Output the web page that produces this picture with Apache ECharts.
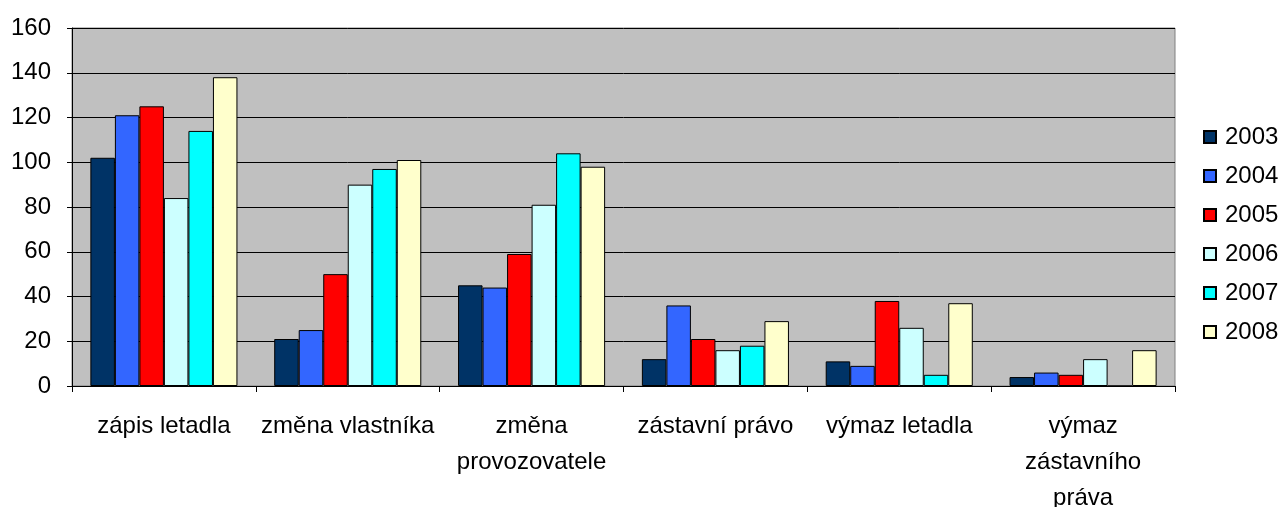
<!DOCTYPE html>
<html>
<head>
<meta charset="utf-8">
<script src="https://cdn.jsdelivr.net/npm/echarts@6/dist/echarts.min.js"></script>
<style>
  html, body { margin: 0; padding: 0; background: #fff; }
  #chart { width: 1285px; height: 507px; }
</style>
</head>
<body>
<div id="chart"></div>
<script>
const categories = ['zápis letadla', 'změna vlastníka', 'změna\nprovozovatele', 'zástavní právo', 'výmaz letadla', 'výmaz\nzástavního\npráva'];
const years = ['2003', '2004', '2005', '2006', '2007', '2008'];
const v2003 = [102, 21, 45, 12, 11, 4];
const v2004 = [121, 25, 44, 36, 9, 6];
const v2005 = [125, 50, 59, 21, 38, 5];
const v2006 = [84, 90, 81, 16, 26, 12];
const v2007 = [114, 97, 104, 18, 5, 0];
const v2008 = [138, 101, 98, 29, 37, 16];
const yTicks = [0, 20, 40, 60, 80, 100, 120, 140, 160];

const values = [v2003, v2004, v2005, v2006, v2007, v2008];
const colors = ['#003366', '#3366ff', '#ff0000', '#ccffff', '#00ffff', '#ffffcc'];
const font = 'Liberation Sans, Arial, sans-serif';

let myChart = echarts.init(document.getElementById('chart'));
myChart.setOption({
  animation: false,
  textStyle: { fontFamily: font },
  grid: {
    left: 72,
    right: 110,
    top: 28,
    bottom: 121,
    outerBoundsMode: 'none',
    containLabel: false,
    show: true,
    backgroundColor: '#c0c0c0',
    borderColor: '#808080',
    borderWidth: 1
  },
  legend: {
    orient: 'vertical',
    left: 1198,
    top: 120,
    itemWidth: 12,
    itemHeight: 12,
    itemGap: 15,
    icon: 'rect',
    textStyle: { fontSize: 24, color: '#000', fontFamily: font, padding: [0, 0, 0, 4] },
    data: years
  },
  xAxis: {
    type: 'category',
    data: categories,
    axisLine: { lineStyle: { color: '#000', width: 1 } },
    axisTick: { show: true, length: 6, lineStyle: { color: '#000' } },
    axisLabel: {
      interval: 0,
      color: '#000',
      fontSize: 24,
      fontFamily: font,
      margin: 22,
      lineHeight: 36
    }
  },
  yAxis: {
    type: 'value',
    min: yTicks[0],
    max: yTicks[yTicks.length - 1],
    interval: yTicks[1] - yTicks[0],
    axisLine: { show: true, lineStyle: { color: '#000', width: 1 } },
    axisTick: { show: true, length: 5, lineStyle: { color: '#000' } },
    splitLine: { lineStyle: { color: '#000', width: 1 } },
    axisLabel: { color: '#000', fontSize: 24, fontFamily: font, margin: 21 }
  },
  series: years.map(function (y, i) {
    return {
      name: y,
      type: 'bar',
      data: values[i],
      barGap: '0%',
      barCategoryGap: '20%',
      itemStyle: { color: colors[i], borderColor: '#000', borderWidth: 1 }
    };
  })
});
</script>
</body>
</html>
